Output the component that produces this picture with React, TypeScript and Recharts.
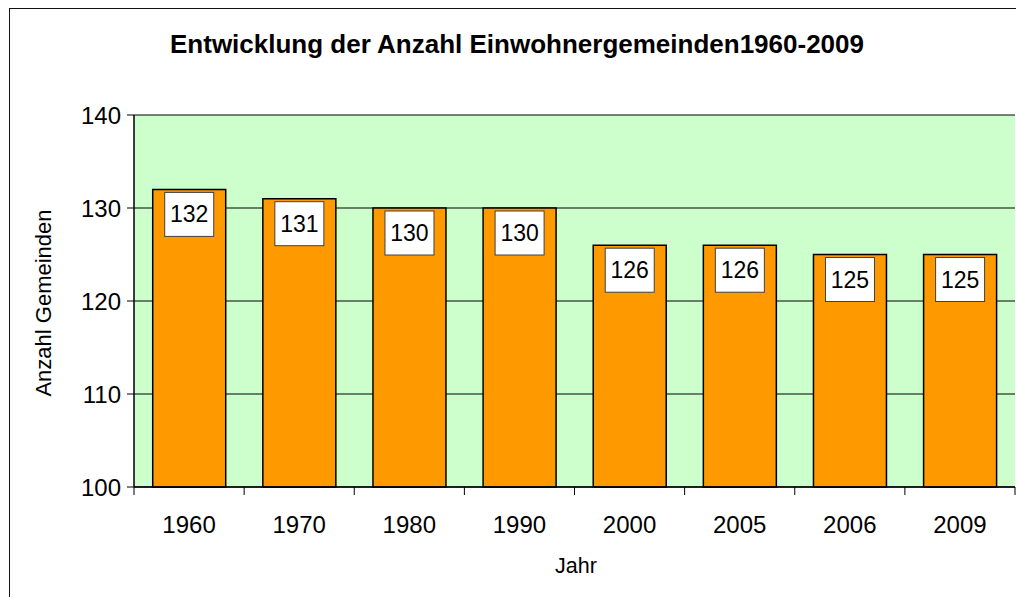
import { BarChart, Bar, XAxis, YAxis, CartesianGrid, LabelList } from "recharts";

const years = ["1960", "1970", "1980", "1990", "2000", "2005", "2006", "2009"];
const gemeinden = [132, 131, 130, 130, 126, 126, 125, 125];
const yTicks = [100, 110, 120, 130, 140];

const data = years.map((y, i) => ({ jahr: y, anzahl: gemeinden[i] }));

const FONT = "'Liberation Sans', Arial, sans-serif";

// x tick: label in the middle, tick mark at the category border
function YearTick(props: any) {
  const { x, y, payload, index } = props;
  const half = payload?.offset ?? 55;
  return (
    <g>
      <line x1={x - half} x2={x - half} y1={y - 8} y2={y} stroke="#000" />
      {index === years.length - 1 && (
        <line x1={x + half} x2={x + half} y1={y - 8} y2={y} stroke="#000" />
      )}
      <text x={x} y={y + 38} textAnchor="middle" fontSize={24} fontFamily={FONT} fill="#000">
        {payload.value}
      </text>
    </g>
  );
}

function ValueBox(props: any) {
  const { x, y, width, value } = props;
  const cx = x + width / 2;
  return (
    <g>
      <rect x={cx - 24.5} y={y + 3} width={49} height={44} fill="#fff" stroke="#404040" strokeWidth={1} />
      <text x={cx} y={y + 33} textAnchor="middle" fontSize={23} fontFamily={FONT} fill="#000">
        {value}
      </text>
    </g>
  );
}

export default function App() {
  return (
    <div style={{ position: "absolute", left: 0, top: 0, width: 1016, height: 597, background: "#fff", overflow: "hidden", fontFamily: FONT }}>
      {/* outer frame */}
      <div style={{ position: "absolute", left: 9, top: 8, width: 1030, height: 620, border: "1.5px solid #111" }} />

      <div style={{ position: "absolute", left: 0, top: 29, width: 1034, textAlign: "center", fontSize: 26, fontWeight: "bold", color: "#000" }}>
        Entwicklung der Anzahl Einwohnergemeinden1960-2009
      </div>

      <div style={{ position: "absolute", left: 0, top: 0 }}>
        <BarChart
          width={1016}
          height={597}
          data={data}
          barCategoryGap="17%"
          margin={{ top: 115, right: 1, left: 74, bottom: 50 }}
        >
          <CartesianGrid fill="#CCFFCC" stroke="#000" vertical={false} yAxisId="l" />
          <XAxis
            dataKey="jahr"
            axisLine={{ stroke: "#000", strokeWidth: 1.5 }}
            tickLine={false}
            tick={<YearTick />}
            height={60}
            interval={0}
          />
          <YAxis
            yAxisId="l"
            domain={[100, 140]}
            ticks={yTicks}
            width={60}
            axisLine={{ stroke: "#000", strokeWidth: 1.5 }}
            tickLine={{ stroke: "#000" }}
            tickSize={7}
            tickMargin={6}
            tick={{ fontSize: 24, fontFamily: FONT, fill: "#000" }}
          />
          <YAxis
            yAxisId="r"
            orientation="right"
            domain={[100, 140]}
            width={0}
            tick={false}
            tickLine={false}
            axisLine={{ stroke: "#808080" }}
          />
          <Bar yAxisId="l" dataKey="anzahl" fill="#FF9900" stroke="#000" strokeWidth={1.5} isAnimationActive={false}>
            <LabelList dataKey="anzahl" content={<ValueBox />} />
          </Bar>
        </BarChart>
      </div>

      <div
        style={{
          position: "absolute",
          left: 44,
          top: 303,
          transform: "translate(-50%, -50%) rotate(-90deg)",
          fontSize: 22,
          whiteSpace: "nowrap",
          color: "#000",
        }}
      >
        Anzahl Gemeinden
      </div>
      <div style={{ position: "absolute", left: 576, top: 566, transform: "translate(-50%, -50%)", fontSize: 21.5, color: "#000" }}>
        Jahr
      </div>
    </div>
  );
}
